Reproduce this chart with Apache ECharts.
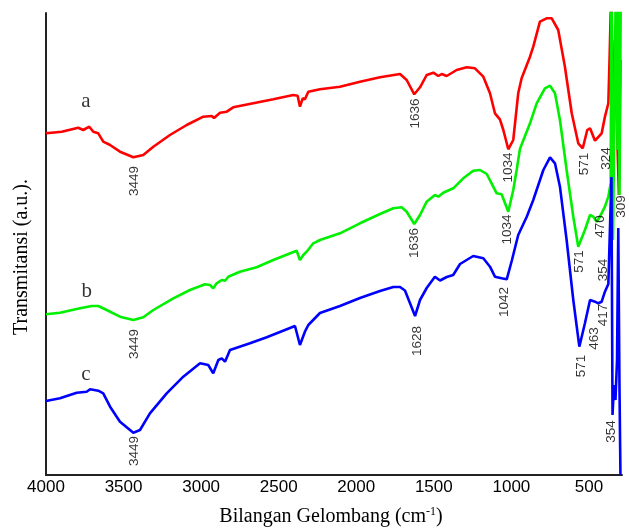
<!DOCTYPE html>
<html>
<head>
<meta charset="utf-8">
<script src="https://cdn.jsdelivr.net/npm/echarts@6/dist/echarts.min.js"></script>
<style>html,body{margin:0;padding:0;background:#fff;}#c{width:629px;height:528px;}</style>
</head>
<body>
<div id="c"></div>
<script>
// Wavenumbers (cm-1) and transmittance (a.u.)
const redWave = [4000,3899,3792,3760,3721,3695,3663,3631,3587,3523,3437,3373,3308,3201,3093,2986,2932,2917,2878,2835,2793,2664,2535,2406,2378,2363,2345,2331,2309,2234,2105,1976,1847,1718,1675,1626,1589,1546,1503,1471,1449,1417,1353,1288,1235,1181,1138,1106,1074,1052,1020,988,956,934,880,859,816,773,740,698,655,611,569,540,511,493,461,418,397,375,366,355,345,332,319,307,297];
const redT = [341.7,343.3,347.3,345,348.3,343.3,341.7,333.3,330,323.3,317.7,320,328.3,340,350,358.3,359,357,362.3,363.3,367.7,371.7,375.7,380,379.3,368.3,376.7,375.7,383.3,385.7,388.3,393.3,397.7,401,395,380.7,387.7,400,402.3,399,401,399,405,407.7,406.7,398.3,381.7,361.7,355.7,345,325.7,335,381.7,396.7,418.3,428.3,453.3,456.7,456.7,445,408.3,361.7,331.7,326.7,345,346.7,334.3,341.7,358.3,371.7,423,495,325,435,345,280,415];

const greenWave = [4000,3910,3781,3705,3663,3609,3523,3437,3373,3308,3179,3072,2975,2943,2922,2900,2867,2846,2825,2750,2642,2535,2384,2363,2341,2320,2277,2234,2105,1976,1847,1761,1707,1675,1626,1589,1546,1493,1471,1439,1375,1310,1246,1202,1159,1117,1095,1063,1020,988,966,945,880,837,784,751,719,687,644,601,569,526,493,472,450,429,397,375,360,355,345,326,316,310,303,294];
const greenT = [160.7,162.3,166.7,169,169,165,158.3,155,157.7,165,176.7,185,190.7,190,186.7,191.7,195,194.3,198.3,203.3,207.7,215,224.3,215,220,223.3,231.7,235,241.7,251.7,261,266.7,267.7,263.3,251,260,273.3,280,278.3,282.3,286.7,296.7,304.3,305,301,288.3,281.7,280.7,263.3,285,305,326,351.7,371.7,386.7,389.3,381.7,355,305,258.3,228.3,245,260,258.3,253.3,258.3,268.3,278.3,291.7,505,235,505,325,505,280,505];

const blueWave = [4000,3910,3802,3738,3716,3663,3631,3587,3523,3437,3394,3330,3222,3115,3007,2954,2922,2889,2867,2846,2814,2685,2577,2395,2363,2331,2309,2234,2105,1976,1847,1761,1718,1686,1621,1589,1546,1493,1460,1417,1375,1331,1246,1181,1138,1106,1063,1030,998,956,901,859,794,751,719,687,644,601,562,526,493,461,440,418,397,375,355,348,339,329,319,311,303,297];
const blueT = [74,76.7,82.3,83.3,85.7,84.3,81.7,68.3,53.3,42.3,45,61.7,81.7,98.3,111.7,110,101.7,115,116.7,113.3,125,131.7,137.7,149,130,143.3,150,162,169,177,184,188,188,184.5,159,175,187,198.3,194.5,198,200,211,219,216.7,208.3,198.3,196.7,195.7,214,240,258.3,275,305,317.7,311.7,288.3,235,175,128.3,151.7,175,173.3,171.7,173.3,183.3,191,298,60,90,75,115,247,85,0];

// Peak annotations: text, anchor wavenumber, anchor transmittance
const peakText = ['3449','1636','1034','571','324','309','3449','1636','1034','571','470','354','3449','1628','1042','571','463','417','354'];
const peakWave = [3433,1621,1022,532,390,289,3433,1628,1028,564,429,410,3433,1609,1048,551,468,406,358];
const peakT = [294,361.5,307.5,311,316.5,268.5,131,232,245.5,213.5,248.5,205,24,134,173,109,136.5,160,43.5];

// Curve letters
const curveLetters = ['a','b','c'];
const letterWave = [3742,3738,3742];
const letterT = [374,184,101];

const xTicks = [4000,3500,3000,2500,2000,1500,1000,500];

const zip = (xs, ys) => xs.map((x, i) => [x, ys[i]]);

const chart = echarts.init(document.getElementById('c'), null, {renderer: 'canvas'});
const lineBase = {type: 'line', showSymbol: false, symbol: 'none', smooth: false, clip: true, animation: false};

chart.setOption({
  backgroundColor: '#ffffff',
  animation: false,
  grid: {left: 46, right: 7, top: 13, bottom: 53, containLabel: false},
  xAxis: {
    type: 'value', inverse: true, min: 287, max: 4000,
    axisLine: {show: true, lineStyle: {color: '#222', width: 2}},
    axisTick: {show: false},
    splitLine: {show: false},
    axisLabel: {customValues: xTicks, formatter: v => String(v), color: '#000', fontFamily: 'Liberation Sans', fontSize: 17, margin: 4}
  },
  yAxis: {
    type: 'value', min: 0, max: 462,
    axisLine: {show: true, lineStyle: {color: '#222', width: 2}},
    axisTick: {show: false}, axisLabel: {show: false}, splitLine: {show: false}
  },
  graphic: [
    {type: 'text', x: 22, y: 257, rotation: Math.PI / 2,
     style: {text: 'Transmitansi (a.u.).', font: '20px "Liberation Serif"', fill: '#000', align: 'center', verticalAlign: 'middle'}},
    {type: 'text', x: 331, y: 517,
     style: {text: '{n|Bilangan Gelombang (cm}{s|-1}{n|)}', align: 'center', verticalAlign: 'middle', fill: '#000',
       rich: {n: {fontFamily: 'Liberation Serif', fontSize: 20, fill: '#000'},
              s: {fontFamily: 'Liberation Serif', fontSize: 12, fill: '#000', verticalAlign: 'top', padding: [0,0,10,0]}}}}
  ],
  series: [
    Object.assign({}, lineBase, {name: 'a', data: zip(redWave, redT), lineStyle: {color: '#ff0000', width: 2.6}, itemStyle: {color: '#ff0000'}}),
    Object.assign({}, lineBase, {name: 'b', data: zip(greenWave, greenT), lineStyle: {color: '#00f000', width: 2.6}, itemStyle: {color: '#00f000'}}),
    Object.assign({}, lineBase, {name: 'c', data: zip(blueWave, blueT), lineStyle: {color: '#0000ff', width: 2.6}, itemStyle: {color: '#0000ff'}}),
    {type: 'scatter', name: 'peaks', symbol: 'circle', symbolSize: 0, itemStyle: {color: 'rgba(0,0,0,0)'}, clip: false, z: 10, silent: true,
     data: peakWave.map((w, i) => ({value: [w, peakT[i]], name: peakText[i]})),
     label: {show: true, position: 'inside', rotate: 90, formatter: p => p.name, color: '#000',
             fontFamily: 'Liberation Sans', fontSize: 13.5, align: 'center', verticalAlign: 'middle'}},
    {type: 'scatter', name: 'letters', symbol: 'circle', symbolSize: 0, itemStyle: {color: 'rgba(0,0,0,0)'}, clip: false, z: 10, silent: true,
     data: letterWave.map((w, i) => ({value: [w, letterT[i]], name: curveLetters[i]})),
     label: {show: true, position: 'inside', formatter: p => p.name, color: '#000',
             fontFamily: 'Liberation Serif', fontSize: 21, align: 'center', verticalAlign: 'middle'}}
  ]
});
</script>
</body>
</html>
